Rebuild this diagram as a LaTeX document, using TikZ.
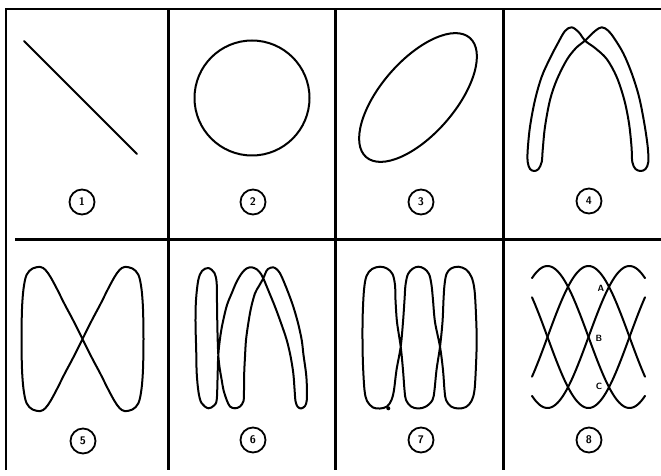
\documentclass[tikz,border=0pt]{standalone}
\usepackage{tikz}
\begin{document}
\begin{tikzpicture}[x=1pt,y=-1pt,
  fig/.style={line width=2pt, line join=round, line cap=round},
  border/.style={line width=2pt},
  divider/.style={line width=3pt},
  num/.style={circle, draw, line width=1.8pt, minimum size=25pt, inner sep=0pt,
    font=\fontsize{11}{11}\selectfont\sffamily\bfseries},
  letter/.style={inner sep=0pt, font=\fontsize{9}{9}\selectfont\sffamily\bfseries}]
\useasboundingbox (0,0) rectangle (661,476);
\fill[white] (0,0) rectangle (661,476);
% frame and grid
\draw[border] (6,470) -- (6,9) -- (661,9);
\draw[divider] (15,239) -- (661,239);
\draw[divider] (168,9) -- (168,470);
\draw[divider] (335,9) -- (335,470);
\draw[divider] (503,9) -- (503,470);
% 1: line
\draw[fig] (24,41) -- (137,154);
% 2: circle
\draw[fig] (252,98) circle [radius=57.5pt];
% 3: tilted ellipse
\draw[fig, rotate around={49:(418,97.5)}] (418,97.5) ellipse [x radius=79pt, y radius=37pt];
% 4
\draw[fig] plot[smooth cycle, tension=0.55] coordinates {
 (571.7,27.3) (579,32.5) (585,40.7) (595,48) (606.7,59) (616.7,77) (624.3,100)
 (629,123.3) (631.5,146.7) (632.3,162) (635.5,169) (640.7,171) (645.5,169)
 (648.3,162) (647.7,146.7) (644.3,123.3) (639,96.7) (631.7,73.3) (623.3,53.3)
 (614,38) (608,30.5) (601.7,27.3) (595,31) (585,40.7) (576,48) (566.7,60)
 (556.7,80) (550,100) (545,126.7) (542.7,150) (541.7,162) (538.5,169) (534.3,171)
 (530,169) (527.7,162) (527.7,150) (530,126.7) (535,100) (541.7,76.7) (550,58.3)
 (558,43) (565,31)};
% 5
\begin{scope}[shift={(82.5,339)}]
\draw[fig] plot[smooth cycle, tension=0.55] coordinates {
 (0,0) (9.5,-19) (18,-35) (25.5,-50) (32,-62) (37,-69) (42,-72) (50,-70.5)
 (56,-64) (59,-50) (60.5,-30) (61,0) (60.5,30) (59,50) (56,64) (50,70.5)
 (42,72) (37,69) (32,62) (25.5,50) (18,35) (9.5,19)
 (0,0) (-9.5,-19) (-18,-35) (-25.5,-50) (-32,-62) (-37,-69) (-42,-72) (-50,-70.5)
 (-56,-64) (-59,-50) (-60.5,-30) (-61,0) (-60.5,30) (-59,50) (-56,64) (-50,70.5)
 (-42,72) (-37,69) (-32,62) (-25.5,50) (-18,35) (-9.5,19)};
\end{scope}
% 6
\draw[fig] plot[smooth cycle, tension=0.55] coordinates {
 (208.3,268) (202,271) (198.3,280) (196,300) (195.5,323) (196.2,350) (196.7,373)
 (198.5,392) (201.5,403) (208.3,408.3) (214,405.5) (216.7,400) (217.5,380)
 (218.3,355) (220.5,335) (223.3,320) (227,305) (231.7,293.3) (236.5,282)
 (241.7,273.3) (246.5,268.5) (251.7,267.3) (257,269.5) (261,274) (263.3,278.3)
 (269,292) (275,306.7) (281,323) (286.7,340) (290.5,356) (293.3,373.3) (294.6,390)
 (295.5,401) (297.5,406.5) (301,408.5) (305,406) (306.8,400) (306.8,385) (306,373)
 (303.5,355) (301.7,340) (298,323) (293.3,306.7) (288,292) (281.7,276.7)
 (278,270.5) (273.3,267.3) (268,269) (265.5,273) (263.3,278.3) (259,286)
 (255,293.3) (251,308) (248.3,323.3) (246,340) (245,356.7) (244.2,373) (244,390)
 (243.5,401) (240,406.5) (235,408.3) (230,406.5) (226.7,400) (223.5,390)
 (221.7,380) (219.5,367) (218.3,355) (217.7,340) (217.3,323.3) (217,303)
 (216.7,283.3) (214.5,273)};
% 7
\draw[fig] plot[smooth cycle, tension=0.55] coordinates {
 (380,266.7) (372,269) (366.5,276) (364,290) (362.7,315) (362.5,340) (363,365)
 (364.5,390) (367,401) (373,407.5) (380,408.5) (387,406.5) (391.5,400) (394,390)
 (396.5,370) (400.7,346.7) (403,322) (404.5,300) (405.5,285) (408,274) (413,268.5)
 (418.3,266.7) (424,268.5) (429,274) (431.5,285) (433,300) (435,322) (440,346.7)
 (443,370) (444.5,390) (446,400) (451,406.5) (458.3,408.5) (466,407) (471.5,401)
 (474.5,390) (476,365) (476.7,340) (476,315) (474.5,290) (471.5,277) (466,269.5)
 (458.3,266.7) (451,268.5) (446.5,274) (444.5,285) (443.5,300) (442.5,322)
 (440,346.7) (436.5,370) (434.5,390) (432.5,400) (426,406.5) (418.3,408.5)
 (411,406.5) (406,400) (404.5,390) (403,370) (400.7,346.7) (397,322) (395.5,300)
 (395,285) (392.5,274) (387,268.5)};
\fill (388.3,408.3) circle [radius=2pt];
% 8
\begin{scope}[fig, domain=532:645, samples=90, smooth, variable=\t]
\draw plot (\t, {337 - 71*cos(2.19512*(\t-547.5))});
\draw plot (\t, {337 - 71*cos(2.19512*(\t-588.5))});
\draw plot (\t, {337 - 71*cos(2.19512*(\t-629.5))});
\draw plot (\t, {337 + 71*cos(2.19512*(\t-588.5))});
\end{scope}
\node[letter] (la) at (601,288) {A};
\node[letter] (lb) at (599,338) {B};
\node[letter] (lc) at (599,386) {C};
% numbered labels
\node[num] (n1) at (82,202) {1};
\node[num] (n2) at (253,202) {2};
\node[num] (n3) at (421,202) {3};
\node[num] (n4) at (589,201) {4};
\node[num] (n5) at (83,441) {5};
\node[num] (n6) at (253,440) {6};
\node[num] (n7) at (421,440) {7};
\node[num] (n8) at (589,440) {8};
\end{tikzpicture}
\end{document}
